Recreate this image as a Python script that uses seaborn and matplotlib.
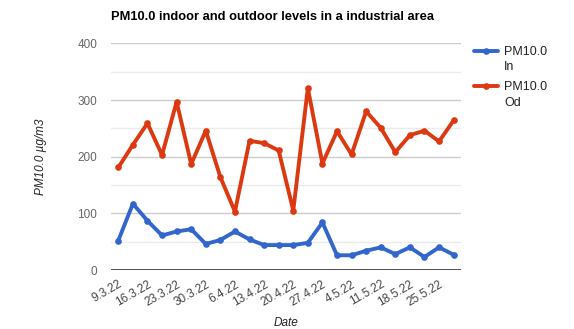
import matplotlib
matplotlib.use("Agg")
import matplotlib.pyplot as plt
import matplotlib.transforms as mtransforms
from matplotlib.legend_handler import HandlerLine2D
import seaborn as sns
import pandas as pd

dates = ["9.3.22", "13.3.22", "16.3.22", "20.3.22", "23.3.22", "27.3.22",
         "30.3.22", "3.4.22", "6.4.22", "10.4.22", "13.4.22", "17.4.22",
         "20.4.22", "24.4.22", "27.4.22", "1.5.22", "4.5.22", "8.5.22",
         "11.5.22", "15.5.22", "18.5.22", "22.5.22", "25.5.22", "29.5.22"]
pm_in = [52, 117, 87, 61, 68, 72, 46, 53, 68, 54, 44, 44,
         44, 48, 84, 26, 26, 34, 40, 28, 40, 23, 40, 27]
pm_od = [181, 221, 259, 203, 297, 187, 246, 164, 103, 228, 224, 211,
         105, 321, 188, 245, 204, 280, 251, 208, 238, 246, 227, 264]
series_names = ["PM10.0\nIn", "PM10.0\nOd"]
colors = ["#3366cc", "#dc3912"]
title = "PM10.0 indoor and outdoor levels in a industrial area"

df = pd.concat([
    pd.DataFrame({"Date": dates, "value": pm_in, "series": series_names[0]}),
    pd.DataFrame({"Date": dates, "value": pm_od, "series": series_names[1]}),
])

sns.set_theme(style="white")
plt.rcParams["font.family"] = ["Liberation Sans", "DejaVu Sans"]

fig = plt.figure(figsize=(5.74, 3.29), dpi=100)
ax = fig.add_axes([0.1934, 0.1793, 0.6096, 0.6887])

sns.lineplot(data=df, x="Date", y="value", hue="series", palette=colors,
             marker="o", markersize=4.8, markeredgewidth=0, linewidth=2.8,
             sort=False, ax=ax, legend=True)

ax.set_xlim(-0.5, len(dates) - 0.5)
ax.set_ylim(0, 400)
ax.set_yticks([0, 100, 200, 300, 400])
ax.set_yticks([50, 150, 250, 350], minor=True)
ax.grid(axis="y", which="major", color="#cccccc", linewidth=1)
ax.grid(axis="y", which="minor", color="#ebebeb", linewidth=1)
ax.grid(axis="x", visible=False)
ax.set_axisbelow(True)
ax.axhline(0, color="#333333", linewidth=1.2, zorder=1)
for s in ax.spines.values():
    s.set_visible(False)

ax.set_xticks(range(0, len(dates), 2))
ax.set_xticklabels(dates[::2], rotation=30, ha="right", rotation_mode="anchor",
                   fontsize=8.5, color="#444444")
ax.tick_params(axis="x", length=0, pad=6)
ax.tick_params(axis="y", length=0, pad=10, labelsize=8.5, labelcolor="#666666")

ax.set_xlabel("Date", fontsize=8.5, style="italic", color="#222222", labelpad=6)
ax.set_ylabel("PM10.0 µg/m3", fontsize=8.5, style="italic", color="#222222",
              labelpad=22)

fig.text(111 / 574, 1 - 17 / 329, title, fontsize=9.3, fontweight="bold",
         color="#000000", ha="left", va="center")


class TopLineHandler(HandlerLine2D):
    def create_artists(self, legend, orig_handle, xdescent, ydescent, width,
                       height, fontsize, trans):
        arts = super().create_artists(legend, orig_handle, xdescent, ydescent,
                                      width, height, fontsize, trans)
        shift = mtransforms.Affine2D().translate(0, fontsize * 0.72)
        for a in arts:
            a.set_transform(shift + trans)
        return arts


handles, labels = ax.get_legend_handles_labels()
leg = ax.legend(handles, labels, loc="upper left", bbox_to_anchor=(1.005, 1.04),
                frameon=False, fontsize=9.0, handlelength=1.95,
                handletextpad=0.45, labelspacing=0.65, labelcolor="#222222",
                handler_map={h: TopLineHandler() for h in handles})
for t in leg.get_texts():
    t.set_linespacing(1.4)

fig.savefig("out.png", dpi=100)
